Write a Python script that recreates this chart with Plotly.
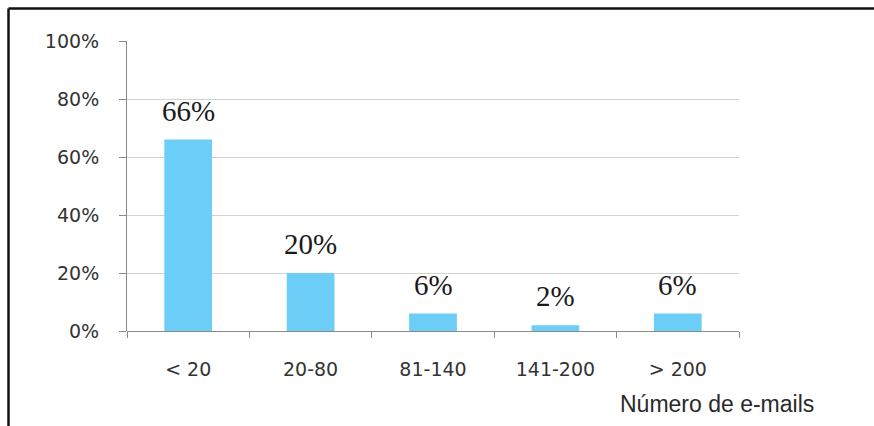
import plotly.graph_objects as go

# Distribution of respondents by number of e-mails
categories = ["< 20", "20-80", "81-140", "141-200", "> 200"]
shares = [66, 20, 6, 2, 6]
y_ticks = [0, 20, 40, 60, 80, 100]

W, H = 874, 426
M = dict(l=127, r=135, t=41, b=95)
PW = W - M["l"] - M["r"]
PH = H - M["t"] - M["b"]


def px_x(px):
    return (px - M["l"]) / PW


def px_y(py):
    return (H - M["b"] - py) / PH


fig = go.Figure(
    go.Bar(
        x=categories,
        y=shares,
        width=0.39,
        marker=dict(color="#6ccdf7", line=dict(width=0)),
        hoverinfo="skip",
    )
)

# value labels above each bar
for c, v in zip(categories, shares):
    fig.add_annotation(
        x=c, y=v, xref="x", yref="y",
        text=f"{v}%", showarrow=False,
        yanchor="bottom", yshift=11,
        font=dict(family="Liberation Serif", size=29, color="#1a1a1a"),
    )

# axis title in the lower right corner
fig.add_annotation(
    x=px_x(717), y=px_y(404), xref="paper", yref="paper",
    text="Número de e-mails", showarrow=False,
    xanchor="center", yanchor="middle",
    font=dict(family="Liberation Sans", size=23, color="#2a2a2a"),
)

# frame lines along the top and left edge
frame = dict(color="#111111", width=2.5)
fig.add_shape(type="line", xref="paper", yref="paper",
              x0=px_x(8.5), x1=px_x(W), y0=px_y(8.5), y1=px_y(8.5), line=frame)
fig.add_shape(type="line", xref="paper", yref="paper",
              x0=px_x(8.5), x1=px_x(8.5), y0=px_y(8.5), y1=px_y(H), line=frame)

tick_font = dict(family="DejaVu Sans", size=19, color="#333333")

fig.update_layout(
    width=W, height=H,
    margin=M,
    paper_bgcolor="white",
    plot_bgcolor="white",
    showlegend=False,
    xaxis=dict(
        type="category",
        range=[-0.5, len(categories) - 0.5],
        showgrid=False,
        showline=False,
        ticks="outside",
        tickson="boundaries",
        ticklen=6,
        tickcolor="#8a8a8a",
        ticklabelstandoff=25,
        tickfont=tick_font,
        fixedrange=True,
    ),
    yaxis=dict(
        range=[0, 100],
        tickvals=y_ticks,
        ticktext=[f"{t}%" for t in y_ticks],
        showgrid=True,
        gridcolor="#d2d2d2",
        gridwidth=1,
        showline=True,
        linecolor="#8a8a8a",
        linewidth=1,
        ticks="outside",
        ticklen=7,
        tickcolor="#8a8a8a",
        ticklabelstandoff=16,
        zeroline=True,
        zerolinecolor="#8a8a8a",
        zerolinewidth=1,
        tickfont=tick_font,
        fixedrange=True,
    ),
)

fig.write_html("out.html", config={"displayModeBar": False})
